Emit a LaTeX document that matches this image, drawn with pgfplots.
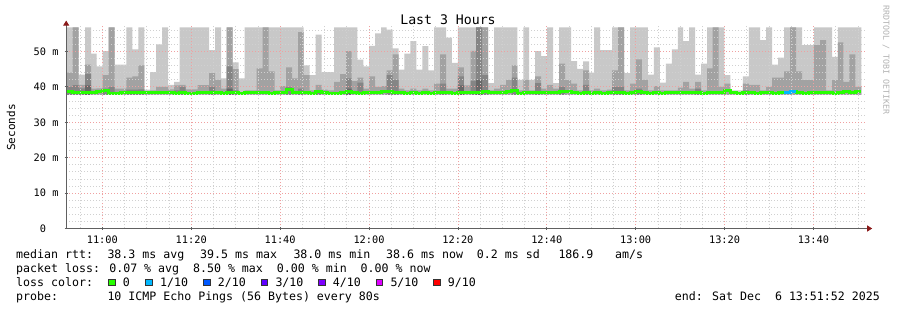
\documentclass[border=0pt]{standalone}
\usepackage{fontspec}
\setmainfont{DejaVu Sans Mono}
\usepackage{pgfplots}
\pgfplotsset{compat=1.18}
\usepackage{pgfplotstable}
\usetikzlibrary{arrows.meta}
\definecolor{smokeA}{HTML}{C8C8C8}
\definecolor{smokeB}{HTML}{A2A2A2}
\definecolor{smokeC}{HTML}{858585}
\definecolor{smokeD}{HTML}{686868}
\definecolor{loss0}{HTML}{26FF00}
\definecolor{loss1}{HTML}{00B8FF}
\definecolor{loss2}{HTML}{0059FF}
\definecolor{loss3}{HTML}{5E00FF}
\definecolor{loss4}{HTML}{7E00FF}
\definecolor{loss5}{HTML}{DD00FF}
\definecolor{loss9}{HTML}{FF0000}
\definecolor{mgrid}{HTML}{F0A0A0}
\definecolor{mingrid}{HTML}{D0D0D0}
\definecolor{arrowred}{HTML}{8B1A1A}
\definecolor{axisgray}{HTML}{606060}
\newcommand\lf{\fontsize{11.6}{14}\selectfont}
\pgfplotstableread{
t a b c d m
0.00 56.8 44.0 40.0 37.7 38.8
1.46 56.8 56.8 40.5 37.7 38.5
2.81 43.5 40.6 39.6 37.7 38.4
4.23 56.8 46.3 43.7 40.4 38.3
5.58 49.4 39.5 37.7 37.7 38.4
6.86 45.8 39.6 37.7 37.7 38.6
8.21 50.1 43.3 39.5 37.7 39.0
9.56 56.8 56.8 40.0 37.7 38.2
10.91 46.3 39.5 37.7 37.7 38.2
12.26 46.3 39.5 37.7 37.7 38.3
13.52 56.8 42.6 39.2 37.7 38.5
14.87 50.6 43.0 39.2 37.7 38.4
16.22 56.8 46.1 39.3 37.7 38.5
17.57 39.2 38.8 37.7 37.7 38.4
18.86 44.2 39.0 37.7 37.7 38.3
20.21 52.0 40.0 37.7 37.7 38.4
21.56 56.8 40.0 37.7 37.7 38.3
22.91 40.6 39.3 37.7 37.7 38.3
24.26 41.4 40.4 39.0 37.7 38.2
25.54 56.8 40.6 40.0 37.7 38.4
26.89 56.8 39.3 37.7 37.7 38.2
28.24 56.8 39.3 37.7 37.7 38.2
29.59 56.8 40.5 37.7 37.7 38.3
30.94 56.8 40.5 37.7 37.7 38.3
32.13 50.4 43.9 40.0 37.7 38.4
33.48 56.8 42.0 37.7 37.7 38.3
34.83 42.4 39.5 37.7 37.7 38.2
36.12 56.8 56.8 45.8 39.5 38.5
37.47 46.9 45.0 39.0 37.7 38.4
38.82 42.4 38.5 37.7 37.7 38.2
40.17 56.8 39.0 37.7 37.7 38.3
41.52 56.8 39.0 37.7 37.7 38.4
42.87 56.8 45.2 37.7 37.7 38.4
44.22 56.8 56.8 37.7 37.7 38.3
45.57 56.8 44.4 37.7 37.7 38.2
46.92 56.8 39.0 37.7 37.7 38.3
48.11 56.8 40.2 37.7 37.7 38.4
49.46 56.8 45.5 40.0 37.7 39.3
50.81 56.8 42.4 37.7 37.7 38.4
52.16 56.8 55.5 39.5 37.7 38.3
53.44 46.1 43.3 37.7 37.7 38.3
54.79 43.3 39.0 37.7 37.7 38.2
56.14 54.8 40.6 39.0 37.7 38.7
57.49 44.2 39.2 37.7 37.7 38.4
58.84 44.2 39.0 37.7 37.7 38.2
60.26 56.8 41.4 37.7 37.7 38.2
61.61 56.8 43.6 37.7 37.7 38.3
62.96 56.8 50.1 42.4 39.5 38.6
64.24 56.8 41.6 37.7 37.7 38.3
65.50 47.7 42.6 41.2 37.7 38.2
66.85 45.8 39.5 37.7 37.7 38.3
68.14 51.6 43.0 37.7 37.7 38.4
69.49 55.1 40.0 37.7 37.7 38.3
70.84 56.8 40.2 37.7 37.7 38.6
72.12 56.2 44.7 43.3 37.7 38.6
73.47 50.9 49.2 42.0 37.7 38.4
74.82 44.9 39.5 37.7 37.7 38.3
76.08 49.4 39.0 37.7 37.7 38.2
77.43 52.9 39.5 37.7 37.7 38.3
78.78 44.9 39.0 37.7 37.7 38.2
80.13 51.5 39.5 37.7 37.7 38.3
81.48 44.7 39.0 37.7 37.7 38.2
82.76 56.8 40.9 37.7 37.7 38.4
84.11 56.8 49.2 40.9 37.7 38.3
85.46 53.9 39.5 37.7 37.7 38.3
86.75 46.8 39.5 37.7 37.7 38.2
88.10 56.8 45.5 43.0 40.4 38.4
89.45 56.8 40.4 37.7 37.7 38.3
91.02 56.8 50.2 41.7 37.7 38.5
92.21 56.8 56.8 56.8 41.9 38.5
93.56 56.8 56.8 43.3 37.7 38.6
94.91 41.1 39.0 37.7 37.7 38.3
96.26 56.8 39.5 37.7 37.7 38.4
97.61 56.8 40.6 37.7 37.7 38.5
98.96 56.8 42.0 37.7 37.7 38.6
100.25 56.8 46.1 42.6 37.7 38.9
101.51 42.0 39.0 37.7 37.7 38.2
102.86 56.8 42.0 37.7 37.7 38.3
104.14 42.0 39.0 37.7 37.7 38.3
105.49 50.1 43.0 41.1 37.7 38.4
106.84 48.7 39.5 37.7 37.7 38.3
108.19 56.8 40.6 37.7 37.7 38.5
109.54 41.1 39.5 37.7 37.7 38.3
110.89 56.8 46.6 40.0 37.7 38.7
112.24 56.8 41.9 37.7 37.7 38.6
113.59 47.3 40.9 37.7 37.7 38.5
114.94 45.1 39.0 37.7 37.7 38.2
116.29 47.2 44.7 40.6 37.7 38.4
117.64 44.0 39.0 37.7 37.7 38.2
118.77 56.8 39.5 37.7 37.7 38.3
120.12 50.4 39.0 37.7 37.7 38.2
121.69 50.4 39.2 37.7 37.7 38.3
122.82 56.8 44.7 40.0 37.7 38.4
124.17 56.8 56.8 40.0 37.7 38.5
125.52 43.9 39.0 37.7 37.7 38.2
126.87 56.8 40.9 37.7 37.7 38.3
128.15 56.8 47.8 39.5 37.7 38.6
129.50 56.8 42.0 37.7 37.7 38.5
130.85 43.5 39.0 37.7 37.7 38.2
132.20 51.2 40.2 37.7 37.7 38.4
133.55 41.2 39.0 37.7 37.7 38.2
134.90 46.6 39.0 37.7 37.7 38.3
136.25 50.6 39.0 37.7 37.7 38.3
137.60 56.8 39.8 37.7 37.7 38.4
138.79 52.9 41.4 37.7 37.7 38.5
140.14 56.8 39.5 37.7 37.7 38.3
141.49 43.5 41.4 39.5 37.7 38.4
142.84 46.6 39.0 37.7 37.7 38.2
144.19 56.8 45.2 37.7 37.7 38.3
145.47 56.8 56.8 37.7 37.7 38.4
146.82 56.8 40.0 37.7 37.7 38.5
148.09 43.3 40.9 37.7 37.7 39.1
149.44 39.0 38.5 37.7 37.7 38.3
150.72 39.0 38.5 37.7 37.7 38.2
152.23 43.0 40.9 39.0 37.7 38.4
153.58 56.8 40.6 37.7 37.7 38.3
154.84 56.8 40.6 37.7 37.7 38.2
156.12 53.2 39.0 37.7 37.7 38.3
157.47 56.8 40.0 37.7 37.7 38.3
158.82 46.3 42.6 37.7 37.7 38.2
160.17 48.3 42.6 37.7 37.7 38.3
161.52 56.8 44.4 37.7 37.7 38.4
162.87 56.8 56.8 37.7 37.7 38.8
164.22 56.8 44.4 37.7 37.7 38.3
165.57 51.8 41.9 37.7 37.7 38.2
166.92 51.8 41.9 37.7 37.7 38.3
168.27 56.8 51.8 37.7 37.7 38.4
169.62 56.8 53.2 37.7 37.7 38.3
170.97 56.8 39.0 37.7 37.7 38.3
172.32 48.5 41.9 37.7 37.7 38.2
173.60 56.8 52.6 37.7 37.7 38.3
174.86 56.8 41.4 37.7 37.7 38.6
176.22 56.8 49.2 37.7 37.7 38.5
177.57 56.8 40.0 37.7 37.7 38.6
178.92 56.8 40.0 37.7 37.7 38.6
}\smoke
\begin{document}
\begin{tikzpicture}[x=1pt,y=1pt]
\useasboundingbox (0,0) rectangle (897,310);
\begin{axis}[
  at={(66.2pt,81.5pt)}, anchor=south west,
  scale only axis, width=800pt, height=203.9pt,
  xmin=0, xmax=180, ymin=0, ymax=57.6,
  axis lines=left,
  axis on top,
  axis line style={draw=axisgray, line width=0.8pt},
  x axis line style={-{Triangle[length=5pt,width=6pt,color=arrowred]}, shorten >=-6pt},
  y axis line style={-{Triangle[length=5pt,width=6pt,color=arrowred]}, shorten >=-4pt},
  xtick={8.133,28.133,48.133,68.133,88.133,108.133,128.133,148.133,168.133},
  xticklabels={11:00,11:20,11:40,12:00,12:20,12:40,13:00,13:20,13:40},
  minor xtick={3.133,13.133,18.133,23.133,33.133,38.133,43.133,53.133,58.133,63.133,73.133,78.133,83.133,93.133,98.133,103.133,113.133,118.133,123.133,133.133,138.133,143.133,153.133,158.133,163.133,173.133,178.133},
  ytick={0,10,20,30,40,50},
  yticklabels={0\phantom{xm},10 m,20 m,30 m,40 m,50 m},
  minor ytick={2,4,6,8,12,14,16,18,22,24,26,28,32,34,36,38,42,44,46,48,52,54,56},
  grid=both,
  major grid style={draw=mgrid, dash pattern=on 1pt off 2pt, line width=0.8pt},
  minor grid style={draw=mingrid, dash pattern=on 1pt off 2pt, line width=0.8pt},
  tick align=center, major tick length=3pt, minor tick length=0pt,
  tick style={draw=axisgray, line width=0.8pt},
  tick label style={font=\fontsize{10.3}{12}\selectfont, inner sep=0pt},
  xticklabel style={anchor=north, yshift=-5.5pt},
  yticklabel style={anchor=east, xshift=-6pt},
]
\addplot[const plot, fill=smokeA, draw=none] table[x=t,y=a]{\smoke} \closedcycle;
\addplot[const plot, fill=smokeB, draw=none] table[x=t,y=b]{\smoke} \closedcycle;
\addplot[const plot, fill=smokeC, draw=none] table[x=t,y=c]{\smoke} \closedcycle;
\addplot[const plot, fill=smokeD, draw=none] table[x=t,y=d]{\smoke} \closedcycle;
\addplot[fill=white, draw=none] coordinates {(0,37.7) (180,37.7)} \closedcycle;
\addplot[const plot, draw=loss0, line width=3pt] table[x=t,y=m]{\smoke};
\addplot[const plot, draw=loss1, line width=3pt] coordinates {(161.52,38.4) (162.87,38.8) (164.22,38.8)};
\end{axis}
% titles
\node[font=\fontsize{13.2}{15}\selectfont] at (448,290) {Last 3 Hours};
\node[font=\fontsize{11}{13}\selectfont, rotate=90] at (11,182.5) {Seconds};
\node[font=\fontsize{8.3}{10}\selectfont, rotate=-90, text=black!30] at (886,250) {RRDTOOL / TOBI OETIKER};
% legend lines
\begin{scope}[every node/.style={anchor=base west, inner sep=0pt, font=\lf}]
\node at (16,51.7) {median rtt:};
\node at (107.3,51.7) {38.3 ms avg};
\node at (200,51.7) {39.5 ms max};
\node at (293.3,51.7) {38.0 ms min};
\node at (386,51.7) {38.6 ms now};
\node at (476.7,51.7) {0.2 ms sd};
\node at (558.3,51.7) {186.9};
\node at (615,51.7) {am/s};
\node at (16,37.7) {packet loss: 0.07~\%~avg~~8.50~\%~max~~0.00~\%~min~~0.00~\%~now};
\node at (16,23.7) {loss color:};
\node at (122.6,23.7) {0};
\node at (160,23.7) {1/10};
\node at (217.6,23.7) {2/10};
\node at (275.3,23.7) {3/10};
\node at (332.6,23.7) {4/10};
\node at (390.3,23.7) {5/10};
\node at (447.6,23.7) {9/10};
\node at (16,9.7) {probe:};
\node at (107.3,9.7) {10 ICMP Echo Pings (56 Bytes) every 80s};
\node[anchor=base east] at (880,9.7) {end: Sat Dec~~6 13:51:52 2025};
\end{scope}
\begin{scope}[every node/.style={draw=black!80, line width=0.6pt, minimum size=6.7pt, inner sep=0pt}]
\node[fill=loss0] at (111.65,27.7) {};
\node[fill=loss1] at (149.05,27.7) {};
\node[fill=loss2] at (206.65,27.7) {};
\node[fill=loss3] at (264.35,27.7) {};
\node[fill=loss4] at (321.65,27.7) {};
\node[fill=loss5] at (379.35,27.7) {};
\node[fill=loss9] at (436.65,27.7) {};
\end{scope}
\end{tikzpicture}
\end{document}
